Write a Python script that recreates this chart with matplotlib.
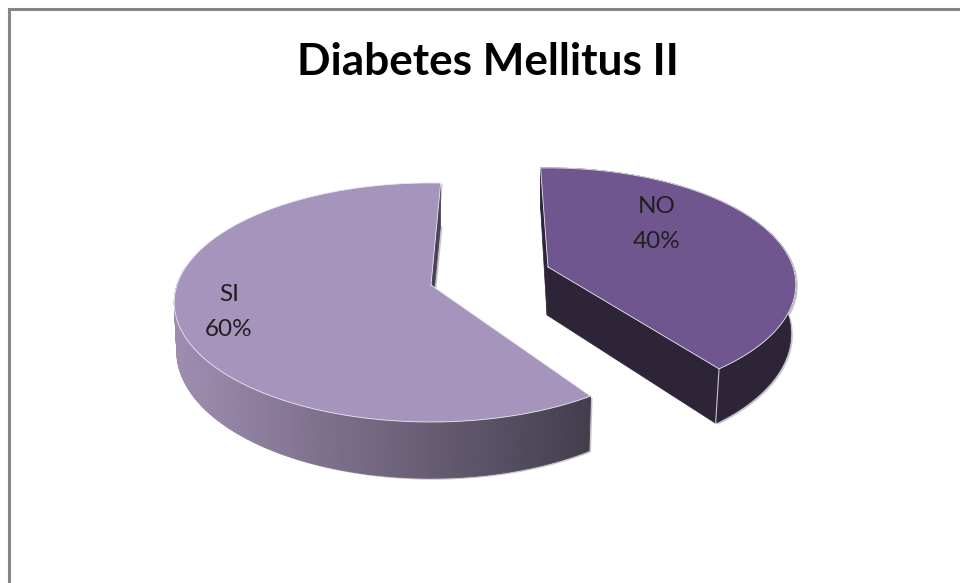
import numpy as np
import matplotlib
matplotlib.use("Agg")
import matplotlib.pyplot as plt
from matplotlib.patches import Polygon
from matplotlib.collections import PolyCollection
from matplotlib.colors import to_rgb

categories = ["NO", "SI"]
percents = [40, 60]
top_colors = ["#6F568F", "#A594BB"]
title = "Diabetes Mellitus II"

plt.rcParams["font.family"] = ["Lato", "DejaVu Sans"]


def project(ang, s):
    # flat circle -> screen, with a bit of perspective (front is bigger)
    t = np.radians(ang)
    u, v = np.cos(t), np.sin(t)
    w = 1 + s["k"] * v
    x = s["cx"] + s["a"] * u / w
    y = s["cy"] - s["b"] * v / w
    return x, y, w


def drop(x, y, w, s):
    # same points on the bottom face of the slice
    return s["cx"] + (x - s["cx"]) * s["shrink"], y + s["depth"] / w


def face(ax, pts, color, z, **kw):
    ax.add_patch(Polygon(pts, closed=True, facecolor=color, edgecolor=color, lw=0.5, zorder=z, **kw))


fig = plt.figure(figsize=(9.6, 5.83), dpi=100, facecolor="white")
ax = fig.add_axes([0, 0, 1, 1])
ax.set_xlim(0, 960)
ax.set_ylim(583, 0)
ax.axis("off")

# chart area border, only top and left are in the crop
ax.plot([8.5, 8.5, 960], [583, 8.5, 8.5], color="#868686", lw=2.2, solid_joinstyle="miter", zorder=1)

slices = {
    "NO": dict(cx=548, cy=267, a=245, b=114, k=0.15, depth=48, start=92, sweep=-1, shrink=0.98),
    "SI": dict(cx=431, cy=285, a=254, b=117, k=0.146, depth=48, start=87.5, sweep=1, shrink=0.99),
}
label_pos = {"NO": (657, 224), "SI": (229, 312)}

for name, pct, top in zip(categories, percents, top_colors):
    s = slices[name]
    end = s["start"] + s["sweep"] * pct * 3.6
    angs = np.linspace(s["start"], end, 240)
    x, y, w = project(angs, s)
    bx, by = drop(x, y, w, s)
    apex = (s["cx"], s["cy"])
    apex_b = (s["cx"] - 1, s["cy"] + s["depth"])

    # soft shadow under the whole solid
    sil = np.vstack([np.column_stack([x, y]), np.column_stack([bx, by])[::-1]])
    sh = np.vstack([sil, [apex_b, apex]])
    ax.add_patch(Polygon(sh + [2, 1.5], closed=True, facecolor="#9a9a9a", edgecolor="none", alpha=0.55, zorder=2))

    if name == "NO":
        # back cut face, cut face towards the viewer, outer wall
        face(ax, [(x[0], y[0]), (bx[0], by[0]), apex_b, apex], "#2D2438", 3)
        face(ax, [(x[-1], y[-1]), (bx[-1], by[-1]), apex_b, apex], "#2D2438", 3)
        face(ax, np.vstack([np.column_stack([x, y]), np.column_stack([bx, by])[::-1]]), "#2D2438", 3)
        ax.plot([x[-1], bx[-1]], [y[-1], by[-1]], color="#c9c5d0", lw=0.8, zorder=5)
    else:
        face(ax, [(x[0], y[0]), (bx[0], by[0]), apex_b, apex], "#4A4058", 3)
        # gradient on the outer wall, light at the left and dark at the right
        left = np.array(to_rgb("#9C8BAE"))
        right = np.array(to_rgb("#423D4C"))
        keep = np.where(angs >= 170)[0]
        quads, cols = [], []
        for i in keep[:-1]:
            quads.append([(x[i], y[i]), (x[i + 1], y[i + 1]), (bx[i + 1], by[i + 1]), (bx[i], by[i])])
            f = (x[i] - x[keep[0]]) / (x[keep[-1]] - x[keep[0]])
            cols.append(left + (right - left) * f)
        ax.add_collection(PolyCollection(quads, facecolors=cols, edgecolors=cols, linewidths=0.6, zorder=3))

    # top face with pale rim
    pts = np.vstack([[apex], np.column_stack([x, y])])
    ax.add_patch(Polygon(pts, closed=True, facecolor=top, edgecolor="none", zorder=4))
    ax.plot(np.r_[apex[0], x, apex[0]], np.r_[apex[1], y, apex[1]], color="#ece9f0", lw=0.6,
            solid_joinstyle="round", zorder=5)

    lx, ly = label_pos[name]
    ax.text(lx, ly, f"{name}\n{pct}%", ha="center", va="center", fontsize=17.5, color="#1f1f1f",
            linespacing=1.8, zorder=6)

ax.text(488, 62, title, ha="center", va="center", fontsize=31.8, fontweight="bold", color="black", zorder=6)

fig.savefig("out.png", dpi=100, facecolor="white")
